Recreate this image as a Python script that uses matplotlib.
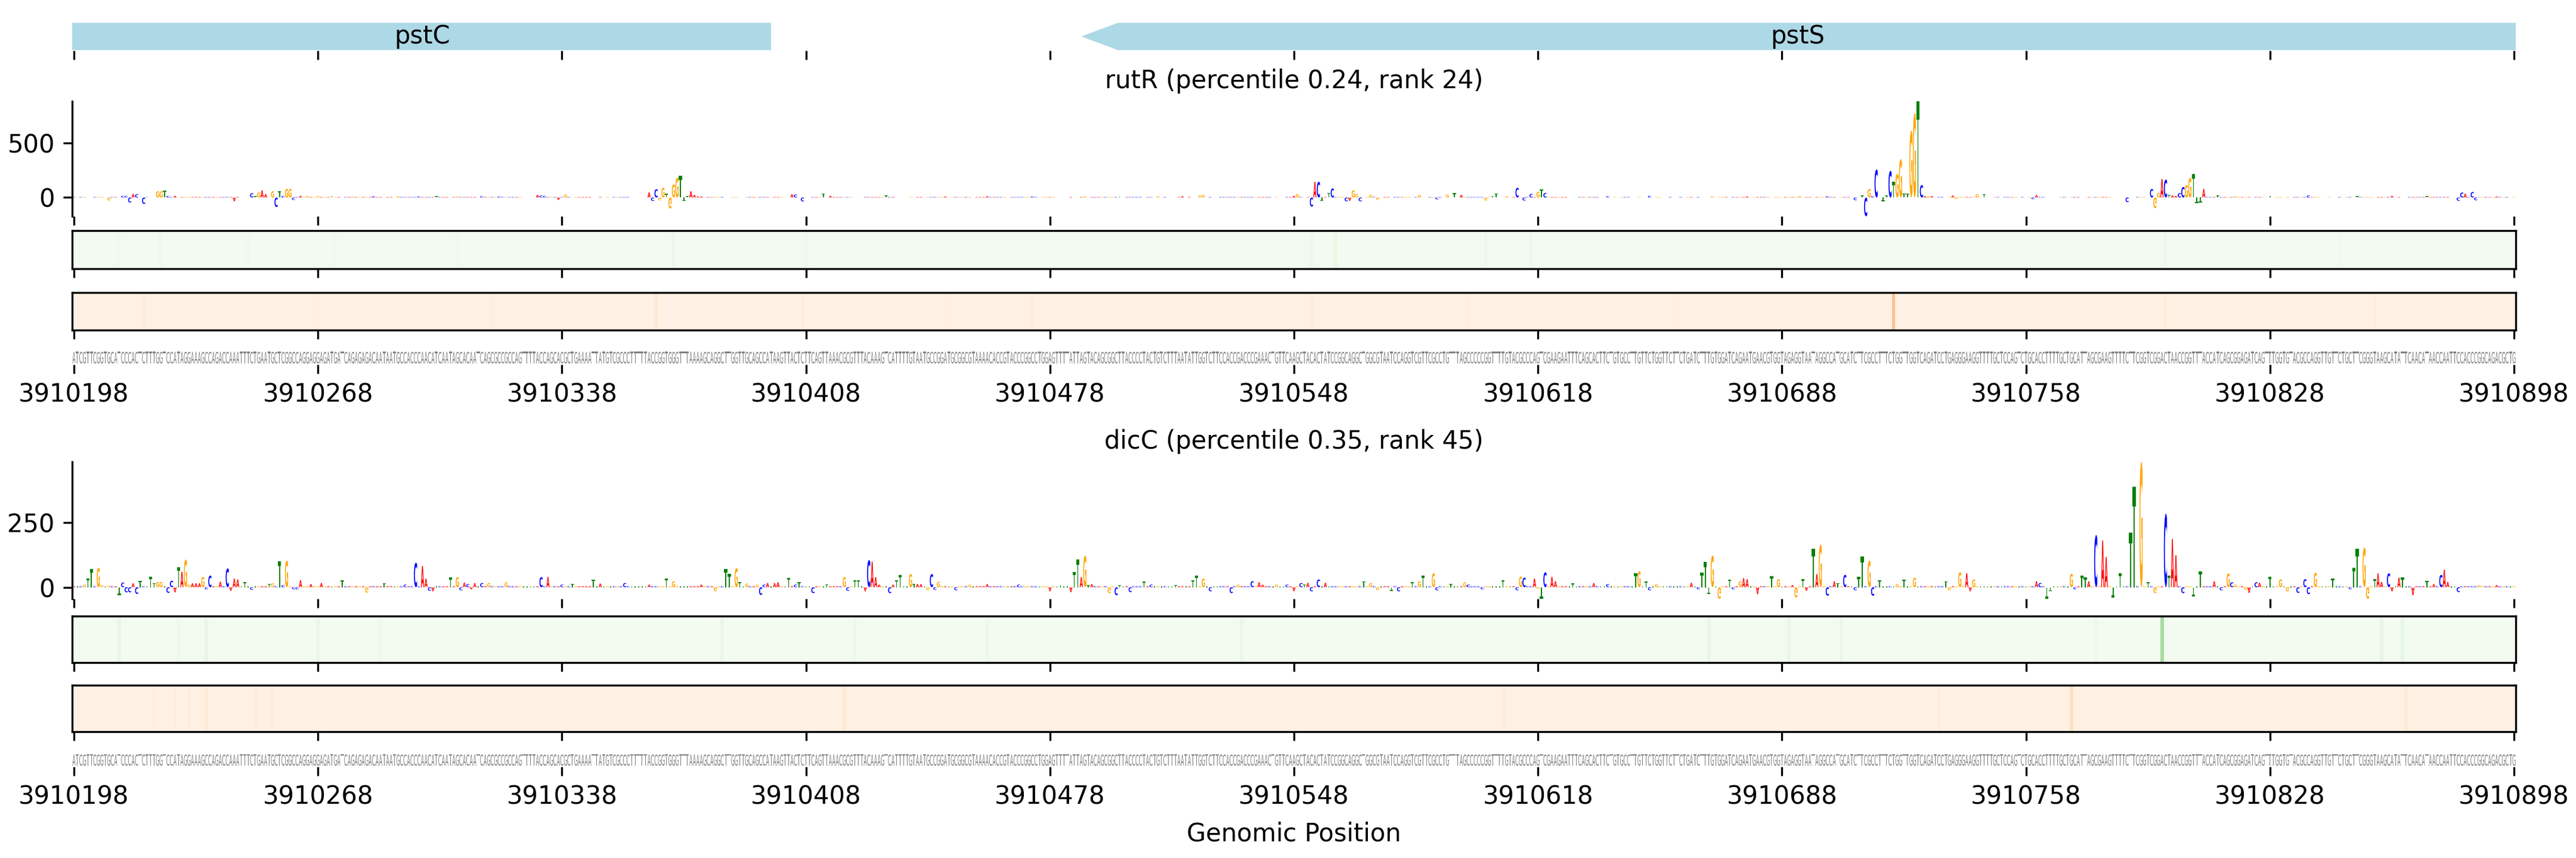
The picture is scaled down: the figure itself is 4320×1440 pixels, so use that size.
import numpy as np
import matplotlib
matplotlib.use("Agg")
import matplotlib.pyplot as plt
from matplotlib.textpath import TextPath
from matplotlib.font_manager import FontProperties
from matplotlib.patches import PathPatch, Polygon
from matplotlib.transforms import Affine2D

# ── region / sequence ─────────────────────────────────────────────────────
REGION_START = 3910198
REGION_END = 3910898
TICKS = list(range(REGION_START, REGION_END + 1, 70))

SEQ_PART1 = ("ATCGTTCGGTGCATCCCACTCTTTGGTCCATAGGAAAGCCAGACCAAATTTCTGAATGCT"
             "CGGCCAGGAGGAGATGATCAGAGAGACAATAATGCCACCCAACATCAATAGCACAATCAG"
             "CGCCGCCAGTTTTACCAGCACGCTGAAAATTATGTCGCCCTTTTTACCGGTGGGT")
SEQ_PART2 = ("TTAAAAGCAGGCTTGGTTGCAGCCATAAGTTACTCTTCAGTTAAACGCGTTTACAAAGTC"
             "ATTTTGTAATGCCGGATGCGGCGTAAAACACCGTACCCGGCCTGGAGTTTTATTAGTACA"
             "GCGGCTTACCCCTACTGTCTTTAATATTGGTCTTCCACCGACCCGAAACTGTTCAAG")
SEQ_PART3 = ("CTACACTATCCGGCAGGCTGGCGTAATCCAGGTCGTTCGCCTGTTTAGCCCCCGGTTTTG"
             "TACGCCCAGTCGAAGAATTTCAGCACTTCTGTGCCTTGTTCTGGTTCTTCTGATCTTTGT"
             "GGATCAGAATGAACGTGGTAGAGGTAATAGGCCATGCATCTTCGCCTTTCTGGTT")
SEQ_PART4 = ("GGTCAGATCCTGAGGGAAGGTTTTGCTCCAGTCTGCACCTTTTGCTGCATTAGCGAAGTT"
             "TTCTTCGGTCGGACTAACCGGTTTACCATCAGCGGAGATCAGTTTGGTGTACGCCAGGTT"
             "GTTCTGCTTCGGGTAAGCATATTCAACATAACCAATTCCACCCGGCAGACGCTG")
SEQUENCE = SEQ_PART1 + SEQ_PART2 + SEQ_PART3 + SEQ_PART4

# ── genes ─────────────────────────────────────────────────────────────────
GENE_NAMES = ["pstC", "pstS"]
GENE_STARTS = [3909440, 3910487]
GENE_ENDS = [3910398, 3911528]
GENE_STRANDS = [-1, -1]

# ── rutR attributions (offset from REGION_START, value) ───────────────────
RUTR_TITLE = "rutR (percentile 0.24, rank 24)"
RUTR_BASE = 5
RUTR_POS = [10, 14, 15, 16, 17, 18, 20, 21, 24, 25, 26, 27, 29, 46, 51, 52, 53, 54, 55,
            57, 58, 59, 60, 61, 62, 63, 65, 67, 70, 74, 80, 86, 93, 99, 104, 110, 117,
            122, 133, 134, 135, 139, 141, 165, 166, 167, 168, 169, 170, 171, 172, 173,
            174, 175, 176, 177, 178, 179, 180, 206, 207, 209, 215, 217, 233, 250, 262,
            275, 290, 300, 311, 318, 323, 324, 350, 351, 355, 356, 357, 358, 360, 361,
            365, 366, 367, 368, 369, 372, 374, 386, 391, 394, 396, 398, 405, 407, 408,
            411, 414, 416, 418, 420, 421, 422, 440, 452, 470, 480, 495, 503, 511, 513,
            514, 515, 516, 517, 519, 520, 521, 522, 523, 524, 525, 526, 527, 528, 529,
            530, 531, 532, 533, 539, 540, 546, 548, 562, 563, 589, 596, 597, 598, 599,
            600, 601, 602, 603, 604, 605, 606, 607, 608, 609, 610, 611, 615, 620, 630,
            641, 655, 665, 675, 684, 685, 686, 688, 689, 695]
RUTR_VAL = [-28, 15, 15, -46, 33, 30, -59, 10, 57, 57, 65, 15, 15, -35, 39, 12, 46, 65, 30,
            57, -87, 57, 15, 79, 79, -22, 15, 15, 12, 15, 10, 12, 12, 10, 12, 10, 12,
            10, 24, 18, 15, -22, 28, 46, -31, 76, -25, 89, 33, -101, 120, 181,
            199, -31, 12, 57, 24, 10, 10, 30, 28, -36, 38, 15, 18, 10, 12,
            10, 12, 10, 12, 12, 20, 24, 15, 33, -83, 144, 144, -31, 42, 83,
            -35, -30, 65, 30, -35, 24, -22, 24, -17, 28, 39, 24, -28, 15, 37,
            12, 89, -28, 33, 52, 76, 42, 12, 15, 12, 10, 14, 12, -24, 18,
            -172, 78, 12, 257, -33, 18, 244, 142, 216, 351, 37, 37, 613, 775, 881,
            114, 13, 13, 13, 18, -15, 31, 31, -15, 22, -42, 78, -98, 41, 170,
            164, 22, 20, 15, 41, 96, 114, 179, 216, -52, -45, 78, 18, 12, 15,
            20, 12, 15, 12, -30, 45, 35, 50, -25, 10]
RUTR_YTICKS = [0, 500]

# ── dicC attributions ─────────────────────────────────────────────────────
DICC_TITLE = "dicC (percentile 0.35, rank 45)"
DICC_BASE = 4
DICC_POS = [3, 4, 5, 7, 8, 10, 13, 14, 15, 16, 17, 18, 19, 22, 23, 24, 25, 27, 28, 29, 30,
            31, 32, 33, 34, 35, 36, 37, 38, 39, 42, 44, 45, 46, 47, 49, 51, 56, 57, 59,
            60, 61, 63, 64, 65, 68, 71, 77, 84, 89, 95, 98, 100, 101, 102, 103, 108,
            110, 111, 112, 113, 114, 115, 117, 119, 124, 134, 136, 140, 143, 149, 151,
            158, 165, 170, 172, 180, 184, 187, 188, 190, 191, 193, 196, 197, 198, 199,
            201, 202, 205, 207, 208, 212, 216, 221, 222, 224, 225, 227, 228, 229, 230,
            231, 234, 235, 236, 237, 240, 241, 242, 243, 245, 246, 247, 248, 253, 257,
            262, 271, 280, 283, 286, 287, 288, 289, 290, 291, 292, 297, 299, 300, 303,
            307, 309, 316, 321, 322, 324, 326, 332, 334, 338, 340, 341, 345, 348, 350,
            352, 353, 354, 355, 357, 359, 370, 372, 374, 378, 380, 384, 386, 387, 390,
            391, 395, 399, 400, 404, 410, 414, 415, 416, 419, 420, 421, 422, 424, 425,
            430, 436, 440, 448, 449, 451, 452, 454, 464, 466, 467, 468, 469, 470, 472,
            475, 476, 478, 479, 480, 483, 487, 489, 493, 494, 496, 497, 499, 500, 501,
            503, 505, 506, 508, 511, 512, 513, 515, 516, 518, 523, 525, 528, 537, 538,
            541, 543, 544, 545, 563, 564, 566, 567, 573, 574, 576, 577, 578, 580, 582,
            583, 585, 587, 590, 591, 593, 595, 597, 600, 601, 602, 603, 605, 608, 610,
            614, 616, 618, 619, 620, 623, 624, 626, 627, 630, 633, 635, 638, 640, 641,
            643, 648, 653, 654, 655, 657, 658, 660, 661, 662, 664, 665, 667, 668, 671,
            675, 677, 679, 680, 681, 684, 690, 695]
DICC_VAL = [10, 33, 70, 75, 8, 6, -30, 18, -20, -20, 15, -26, 25, 40, 15, 20, 20, -22, 25, -20, 78,
            60, 107, 10, 15, 15, 15, 40, -8, 45, 21, 73, -14, 33, 30, 20, -10, 12, 15, 101,
            8, 103, -8, -8, 27, 12, 16, 26, -21, 16, 10, 95, 82, 33, -14, -16, 37,
            39, -12, 18, 12, -8, 16, 16, 16, 19, 39, 40, 10, 12, 30, 14,
            16, 10, 33, 23, 10, -16, 70, 51, 74, 19, 14, 10, -30, 10, 16,
            16, 19, 35, 10, 19, -23, 10, 39, -14, 26, 27, -16, 105, 99, 39,
            10, -23, 10, 27, 47, 51, 12, 12, 12, -12, 51, -10, 21, -12, 10,
            12, 10, -16, 9, -19, 58, 107, 39, 122, 8, 12, -23, -31, 8, -19,
            22, 10, 8, 27, 45, 33, -16, -23, 10, 23, 19, 10, 10, 10, -16,
            16, 10, 17, -16, 30, 17, 23, 16, -12, -14, -16, 19, 23, 45, 54,
            -12, 12, 19, 10, -8, 27, -12, 41, 37, 33, -6, -45, 58, 40, 23,
            14, 16, 12, 54, 62, 21, -12, 12, 17, -8, 57, 97, -27, 123, -45,
            30, -8, 23, 35, 31, -27, 43, 31, 8, -40, 31, -14, 149, 51, 165,
            -33, 23, 16, 48, -12, 40, 120, 103, -33, 27, 12, 30, 37, 23, -12,
            58, 54, -16, 30, 23, 16, -45, -16, 52, -8, 45, 37, 23, 202, 181,
            117, -40, 54, 212, 389, 486, 19, -23, 285, 44, 187, 124, -23, -35, 61,
            23, -12, 54, 19, 10, -10, -22, 19, 17, 40, 30, -16, -22, 31, -27,
            56, 33, -8, 76, 148, 154, -45, 31, 54, 20, 54, -16, 37, 37, -31,
            25, 12, 48, 68, 20, -19, 8, 8]
DICC_YTICKS = [0, 250]

# ── per-position heat tracks (fraction of colour scale) ───────────────────
RUTR_GREEN_BASE = 0.025
RUTR_GREEN_POS = [13, 25, 50, 75, 110, 172, 210, 355, 362, 405, 418, 600, 650]
RUTR_GREEN_VAL = [0.05, 0.06, 0.05, 0.05, 0.05, 0.07, 0.06, 0.07, 0.08, 0.06, 0.07, 0.06, 0.05]
RUTR_ORANGE_BASE = 0.03
RUTR_ORANGE_POS = [20, 70, 120, 167, 209, 250, 275, 355, 400, 460, 522, 600, 660]
RUTR_ORANGE_VAL = [0.06, 0.05, 0.05, 0.10, 0.06, 0.05, 0.06, 0.06, 0.05, 0.05, 0.30, 0.08, 0.06]
DICC_GREEN_BASE = 0.03
DICC_GREEN_POS = [13, 30, 38, 70, 88, 186, 224, 262, 335, 469, 492, 507, 580, 599, 662, 668]
DICC_GREEN_VAL = [0.10, 0.07, 0.10, 0.08, 0.07, 0.08, 0.07, 0.07, 0.08, 0.09, 0.09, 0.08, 0.07,
                  0.35, 0.10, 0.10]
DICC_ORANGE_BASE = 0.03
DICC_ORANGE_POS = [23, 29, 33, 38, 52, 57, 221, 410, 535, 573, 669]
DICC_ORANGE_VAL = [0.07, 0.06, 0.07, 0.08, 0.06, 0.06, 0.09, 0.06, 0.08, 0.15, 0.09]

LETTER_COLORS = {"A": "#ff0000", "C": "#0000ff", "G": "#ffa500", "T": "#008000"}

# ── layout (pixel rows of the 4320x1440 canvas) ───────────────────────────
FIG_W, FIG_H = 4320, 1440
AX_LEFT, AX_RIGHT = 121, 4219
XMIN, XMAX = REGION_START - 0.5, REGION_END + 0.5

_glyphs = {}


def glyph(ch, bold):
    key = (ch, bold)
    if key not in _glyphs:
        fp = FontProperties(family="DejaVu Sans", weight="bold" if bold else "normal")
        _glyphs[key] = TextPath((0, 0), ch, size=1, prop=fp)
    return _glyphs[key]


def draw_letter(ax, ch, x, y0, height, width, color, bold):
    if height == 0:
        return
    p = glyph(ch, bold)
    ext = p.get_extents()
    t = (Affine2D().translate(-ext.x0, -ext.y0)
         .scale(width / ext.width, height / ext.height)
         .translate(x - width / 2, y0))
    ax.add_patch(PathPatch(t.transform_path(p), facecolor=color, edgecolor="none", lw=0))


def build_track(base, positions, values):
    arr = np.full(len(SEQUENCE), base, dtype=float)
    arr[np.array(positions)] = values
    return arr


def add_row(fig, top, bottom):
    return fig.add_axes([AX_LEFT / FIG_W, 1 - bottom / FIG_H,
                         (AX_RIGHT - AX_LEFT) / FIG_W, (bottom - top) / FIG_H])


def x_ticks_only(ax, labels=False):
    ax.set_xlim(XMIN, XMAX)
    ax.set_xticks(TICKS)
    if labels:
        ax.set_xticklabels([str(t) for t in TICKS], fontsize=10)
    else:
        ax.tick_params(axis="x", labelbottom=False)


def gene_track(fig, top, bottom):
    ax = add_row(fig, top, bottom)
    ax.set_ylim(0, 1)
    y0, y1 = 0.02, 0.973
    head = 10.5
    for name, s, e, strand in zip(GENE_NAMES, GENE_STARTS, GENE_ENDS, GENE_STRANDS):
        if strand < 0:
            pts = [(s, (y0 + y1) / 2), (s + head, y1), (e, y1), (e, y0), (s + head, y0)]
        else:
            pts = [(e, (y0 + y1) / 2), (e - head, y1), (s, y1), (s, y0), (e - head, y0)]
        ax.add_patch(Polygon(pts, closed=True, facecolor="lightblue", edgecolor="none"))
        xc = (max(s, REGION_START) + min(e, REGION_END)) / 2
        ax.text(xc, 0.5, name, ha="center", va="center", fontsize=10)
    for sp in ax.spines.values():
        sp.set_visible(False)
    ax.set_yticks([])
    x_ticks_only(ax)


def logo_track(fig, top, bottom, vals, yticks):
    ax = add_row(fig, top, bottom)
    for i, (ch, v) in enumerate(zip(SEQUENCE, vals)):
        draw_letter(ax, ch, REGION_START + i, 0, v, 0.9, LETTER_COLORS[ch], True)
    ax.set_ylim(vals.min(), vals.max())
    for side in ["top", "right", "bottom"]:
        ax.spines[side].set_visible(False)
    ax.set_yticks(yticks)
    ax.set_yticklabels([str(t) for t in yticks], fontsize=10)
    x_ticks_only(ax)


def heat_track(fig, top, bottom, vals, cmap):
    ax = add_row(fig, top, bottom)
    ax.imshow(vals[np.newaxis, :], aspect="auto", cmap=cmap, vmin=0, vmax=1,
              extent=(XMIN, XMAX, 0, 1), interpolation="nearest")
    ax.set_yticks([])
    x_ticks_only(ax)


def seq_track(fig, top, bottom):
    ax = add_row(fig, top, bottom)
    ax.set_ylim(0, 1)
    for i, ch in enumerate(SEQUENCE):
        draw_letter(ax, ch, REGION_START + i, 0.08, 0.82, 0.88, "gray", False)
    for sp in ax.spines.values():
        sp.set_visible(False)
    ax.set_yticks([])
    x_ticks_only(ax, labels=True)


fig = plt.figure(figsize=(FIG_W / 300, FIG_H / 300), dpi=300)
cx = (AX_LEFT + AX_RIGHT) / 2 / FIG_W

gene_track(fig, 37, 85)

# rutR block
fig.text(cx, 1 - 148 / FIG_H, RUTR_TITLE, ha="center", va="baseline", fontsize=10)
logo_track(fig, 170, 363, build_track(RUTR_BASE, RUTR_POS, RUTR_VAL), RUTR_YTICKS)
heat_track(fig, 387, 451, build_track(RUTR_GREEN_BASE, RUTR_GREEN_POS, RUTR_GREEN_VAL), "Greens")
heat_track(fig, 491, 554, build_track(RUTR_ORANGE_BASE, RUTR_ORANGE_POS, RUTR_ORANGE_VAL), "Oranges")
seq_track(fig, 588, 612)

# dicC block
fig.text(cx, 1 - 753 / FIG_H, DICC_TITLE, ha="center", va="baseline", fontsize=10)
logo_track(fig, 775, 1005, build_track(DICC_BASE, DICC_POS, DICC_VAL), DICC_YTICKS)
heat_track(fig, 1034, 1112, build_track(DICC_GREEN_BASE, DICC_GREEN_POS, DICC_GREEN_VAL), "Greens")
heat_track(fig, 1150, 1228, build_track(DICC_ORANGE_BASE, DICC_ORANGE_POS, DICC_ORANGE_VAL), "Oranges")
seq_track(fig, 1264, 1287)

fig.text(cx, 1 - 1400 / FIG_H, "Genomic Position", ha="center", va="center", fontsize=10)

fig.savefig("out.png", dpi=300)
